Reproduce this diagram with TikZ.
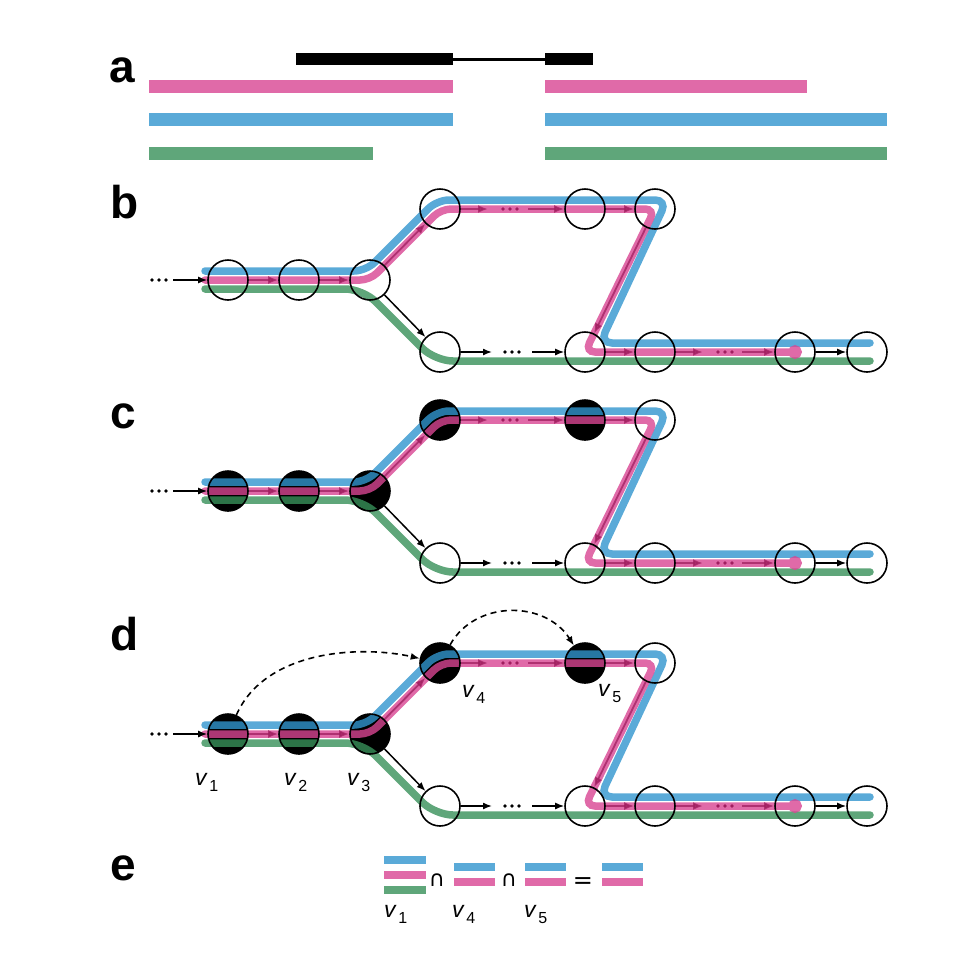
\documentclass[tikz,border=0pt]{standalone}
\usepackage{fontspec}
\setmainfont{Liberation Sans}
\newfontfamily\dejavu{DejaVu Sans}
\usetikzlibrary{arrows.meta}

\definecolor{pk}{RGB}{216,69,146}
\definecolor{bl}{RGB}{49,149,206}
\definecolor{gr}{RGB}{55,144,89}
\definecolor{pkA}{RGB}{224,106,168}
\definecolor{blA}{RGB}{90,170,216}
\definecolor{grA}{RGB}{95,166,122}
\definecolor{pkdark}{RGB}{160,30,95}

\tikzset{
  trk/.style={line width=7.5pt, line cap=round, opacity=0.8},
  nd/.style={circle, draw=black, line width=1.6pt, minimum size=40pt, inner sep=0pt},
  blk/.style={-{Latex[length=9pt,width=7pt]}, line width=1.5pt, draw=black},
  pka/.style={-{Latex[length=10pt,width=8pt]}, line width=1.8pt, draw=pkdark, opacity=0.75},
  lab/.style={font=\fontsize{46}{46}\selectfont\bfseries, anchor=base west, inner sep=0pt},
  vl/.style={font=\fontsize{23}{23}\selectfont, anchor=base west, inner sep=0pt},
  dsh/.style={dash pattern=on 6pt off 4.5pt, line width=1.6pt, -{Latex[length=9pt,width=7pt]}},
  sym/.style={anchor=base, inner sep=0pt}
}

\newcommand\vlab[1]{\textit{v}\kern1.5pt\raisebox{-6.5pt}{\fontsize{16}{16}\selectfont #1}}
\newcommand\dts[3]{\fill[#3] (#1-7,#2) circle[radius=1.8pt] (#1,#2) circle[radius=1.8pt] (#1+7,#2) circle[radius=1.8pt];}

\newcommand\mkpanel[3]{%
\begin{scope}[shift={(0,#1)}]
  \ifnum#3=1\relax
    \fill[black] (228,280) circle[radius=20pt] (299,280) circle[radius=20pt]
      (370,280) circle[radius=20pt] (440,209) circle[radius=20pt] (585,209) circle[radius=20pt];
  \fi
  % tracks
  \draw[trk, draw=bl, rounded corners=12pt] (205,271) -- (366,271) -- (437,200) -- (667,200) -- (600,343) -- (870,343);
  \draw[trk, draw=gr, rounded corners=18pt] (205,289) -- (363,289) -- (435,361) -- (870,361);
  \draw[trk, draw=pk, rounded corners=10pt] (205,280) -- (370,280) -- (441,209) -- (655,209) -- (585,352) -- (795,352) circle[radius=3pt];
  % nodes
  \node[nd] (#2m1) at (228,280) {};
  \node[nd] (#2m2) at (299,280) {};
  \node[nd] (#2m3) at (370,280) {};
  \node[nd] (#2t1) at (440,209) {};
  \node[nd] (#2t2) at (585,209) {};
  \node[nd] (#2t3) at (655,209) {};
  \node[nd] (#2u1) at (440,352) {};
  \node[nd] (#2u2) at (585,352) {};
  \node[nd] (#2u3) at (655,352) {};
  \node[nd] (#2u4) at (795,352) {};
  \node[nd] (#2u5) at (867,352) {};
  % black connectors
  \coordinate (#2in) at (173,280);
  \dts{159}{280}{black}
  \draw[blk] (#2in) -- (#2m1);
  \draw[blk] (#2m3) -- (#2u1);
  \coordinate (#2ba) at (492,352);
  \coordinate (#2bb) at (532,352);
  \draw[blk] (#2u1) -- (#2ba);
  \dts{512}{352}{black}
  \draw[blk] (#2bb) -- (#2u2);
  \draw[blk] (#2u4) -- (#2u5);
  % pink connectors
  \draw[pka] (#2m1) -- (#2m2);
  \draw[pka] (#2m2) -- (#2m3);
  \draw[pka] (#2m3) -- (#2t1);
  \coordinate (#2ta) at (488,209);
  \coordinate (#2tb) at (528,209);
  \draw[pka] (#2t1) -- (#2ta);
  \dts{510}{209}{pkdark}
  \draw[pka] (#2tb) -- (#2t2);
  \draw[pka] (#2t2) -- (#2t3);
  \draw[pka] (#2t3) -- (#2u2);
  \draw[pka] (#2u2) -- (#2u3);
  \coordinate (#2ua) at (703,352);
  \coordinate (#2ub) at (742,352);
  \draw[pka] (#2u3) -- (#2ua);
  \dts{725}{352}{pkdark}
  \draw[pka] (#2ub) -- (#2u4);
\end{scope}}

\begin{document}
\begin{tikzpicture}[x=1pt,y=-1pt]
\useasboundingbox (0,0) rectangle (956,954);

% panel labels
\node[lab] (la) at (109,82) {a};
\node[lab] (lb) at (110,218) {b};
\node[lab] (lc) at (110,428) {c};
\node[lab] (ld) at (110,650) {d};
\node[lab] (le) at (110,880) {e};

% panel a
\fill[black] (296,53) rectangle (453,65);
\fill[black] (453,57.5) rectangle (545,60.5);
\fill[black] (545,53) rectangle (593,65);
\fill[pkA] (149,79.5) rectangle (453,93);
\fill[pkA] (545,79.5) rectangle (807,93);
\fill[blA] (149,112.5) rectangle (453,126);
\fill[blA] (545,112.5) rectangle (887,126);
\fill[grA] (149,146.5) rectangle (373,160);
\fill[grA] (545,146.5) rectangle (887,160);

% panels b, c, d
\mkpanel{0}{b}{0}
\mkpanel{211}{c}{1}
\mkpanel{454}{d}{1}

% dashed jumps in d
\draw[dsh] (dm1) .. controls (265,650) and (360,645) .. (dt1);
\draw[dsh] (dt1) .. controls (475,600) and (545,600) .. (dt2);

% vertex labels in d
\node[vl] (lv1) at (195,785) {\vlab{1}};
\node[vl] (lv2) at (284,785) {\vlab{2}};
\node[vl] (lv3) at (347,785) {\vlab{3}};
\node[vl] (lv4) at (462,697) {\vlab{4}};
\node[vl] (lv5) at (598,696) {\vlab{5}};

% panel e
\fill[blA] (384,856) rectangle (426,864);
\fill[pkA] (384,871) rectangle (426,879);
\fill[grA] (384,886) rectangle (426,894);
\node[sym, font=\dejavu\fontsize{22}{22}\selectfont] (cap1) at (437,886) {∩};
\fill[blA] (454,863) rectangle (495,871);
\fill[pkA] (454,878) rectangle (495,886);
\node[sym, font=\dejavu\fontsize{22}{22}\selectfont] (cap2) at (509,886) {∩};
\fill[blA] (525,863) rectangle (566,871);
\fill[pkA] (525,878) rectangle (566,886);
\node[sym, font=\dejavu\fontsize{24}{24}\selectfont] (eq) at (583,888) {=};
\fill[blA] (602,863) rectangle (643,871);
\fill[pkA] (602,878) rectangle (643,886);
\node[vl] (ev1) at (384,917) {\vlab{1}};
\node[vl] (ev4) at (452,917) {\vlab{4}};
\node[vl] (ev5) at (524,917) {\vlab{5}};
\end{tikzpicture}
\end{document}
